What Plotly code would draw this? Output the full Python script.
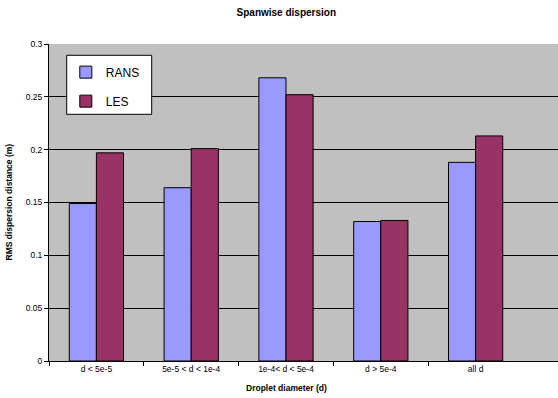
import plotly.graph_objects as go

# Droplet size classes and RMS spanwise dispersion (m) per model
categories = ["d < 5e-5", "5e-5 < d < 1e-4", "1e-4< d < 5e-4", "d > 5e-4", "all d"]
rans = [0.149, 0.164, 0.268, 0.132, 0.188]
les = [0.197, 0.201, 0.252, 0.133, 0.213]
y_ticks = [0, 0.05, 0.1, 0.15, 0.2, 0.25, 0.3]

FONT = "Arial, Liberation Sans, sans-serif"
W, H = 558, 398
L, R, T, B = 49, 0, 44, 37

x = list(range(len(categories)))

fig = go.Figure()
fig.add_trace(go.Bar(
    x=x, y=rans, name="RANS", legendgroup="a",
    marker=dict(color="#9999FF", line=dict(color="#000000", width=1)),
))
fig.add_trace(go.Bar(
    x=x, y=les, name="LES", legendgroup="b",
    marker=dict(color="#993366", line=dict(color="#000000", width=1)),
))

fig.update_layout(
    width=W, height=H,
    margin=dict(l=L, r=R, t=T, b=B, pad=0),
    paper_bgcolor="white",
    plot_bgcolor="#C0C0C0",
    barmode="group",
    bargap=0.428,
    bargroupgap=0,
    font=dict(family=FONT, size=9, color="#000000"),
    showlegend=True,
    legend=dict(
        x=0.033, xanchor="left",
        y=0.957, yanchor="top",
        bgcolor="rgba(0,0,0,0)",
        borderwidth=0,
        font=dict(family=FONT, size=12, color="#000000"),
        tracegroupgap=10,
        itemclick=False,
    ),
    xaxis=dict(
        range=[-0.5, 4.869],
        tickmode="array",
        tickvals=x,
        ticktext=categories,
        ticks="",
        tickfont=dict(size=8.5),
        showgrid=False,
        zeroline=False,
        showline=True,
        linecolor="#000000",
        linewidth=1,
        minor=dict(
            tickmode="array",
            tickvals=[i - 0.5 for i in x],
            ticks="outside",
            ticklen=4,
            tickcolor="#000000",
            showgrid=False,
        ),
    ),
    yaxis=dict(
        range=[0, 0.3],
        tickmode="array",
        tickvals=y_ticks,
        ticktext=[f"{v:g}" for v in y_ticks],
        ticks="outside",
        ticklen=4,
        tickcolor="#000000",
        tickfont=dict(size=8.5),
        showgrid=True,
        gridcolor="#000000",
        gridwidth=1,
        zeroline=False,
        showline=True,
        linecolor="#000000",
        linewidth=1,
    ),
    title=dict(
        text="<b>Spanwise dispersion</b>",
        x=286.3 / W, xref="container", xanchor="center",
        y=1 - 12.7 / H, yref="container", yanchor="middle",
        font=dict(family=FONT, size=10, color="#000000"),
    ),
    shapes=[
        # white legend frame
        dict(
            type="rect", xref="paper", yref="paper", layer="above",
            x0=(66.7 - L) / 509, x1=(151.7 - L) / 509,
            y0=(361 - 114.3) / 317, y1=(361 - 55.3) / 317,
            fillcolor="white", line=dict(color="#000000", width=1),
        ),
    ],
    annotations=[
        dict(
            text="<b>Droplet diameter (d)</b>",
            xref="paper", yref="paper",
            x=(286.2 - L) / 509, y=(361 - 388.3) / 317,
            xanchor="center", yanchor="middle", showarrow=False,
            font=dict(family=FONT, size=8.5, color="#000000"),
        ),
        dict(
            text="<b>RMS dispersion distance (m)</b>",
            xref="paper", yref="paper",
            x=(8 - L) / 509, y=0.5,
            xanchor="center", yanchor="middle", showarrow=False,
            textangle=-90,
            font=dict(family=FONT, size=8.5, color="#000000"),
        ),
    ],
)

fig.write_html("out.html")
